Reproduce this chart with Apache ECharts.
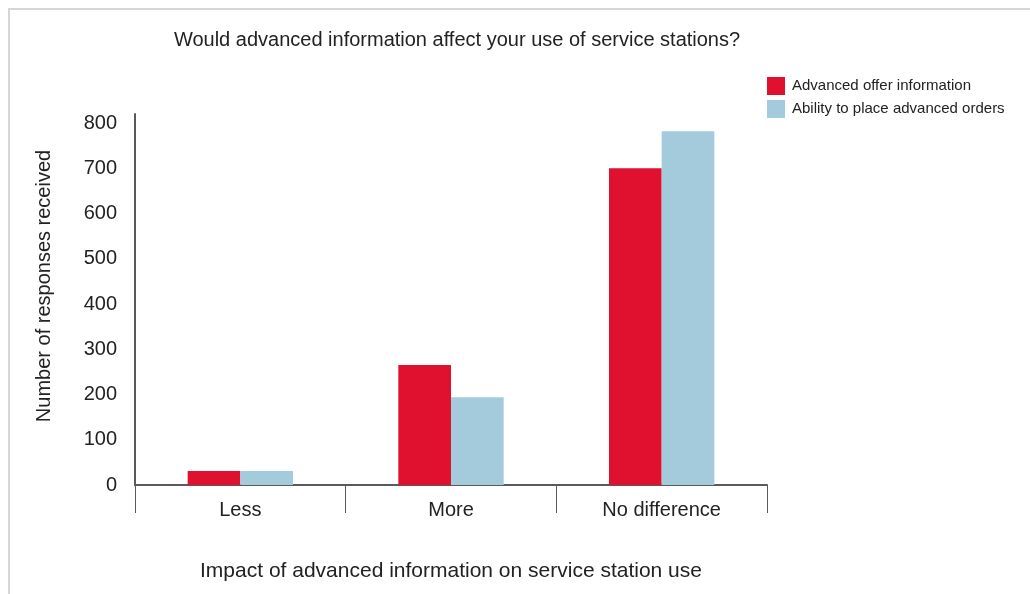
<!DOCTYPE html>
<html><head><meta charset="utf-8">
<script src="https://cdn.jsdelivr.net/npm/echarts@6/dist/echarts.min.js"></script>
<style>
html,body{margin:0;padding:0;background:#fff;}
#frame{position:absolute;left:8px;top:8px;width:1022px;height:586px;border-left:2px solid #d4d7da;border-top:2px solid #d4d7da;box-sizing:border-box;}
#chart{position:absolute;left:0;top:0;width:1030px;height:594px;}
</style></head>
<body><div id="frame"></div><div id="chart"></div>
<script>
const categories = ['Less', 'More', 'No difference'];
const seriesNames = ['Advanced offer information', 'Ability to place advanced orders'];
const offerInfo = [31, 265, 700];
const advancedOrders = [31, 194, 782];
const font = 'Liberation Sans, Arial, Helvetica, sans-serif';

const chart = echarts.init(document.getElementById('chart'));
chart.setOption({
  animation: false,
  textStyle: { fontFamily: font },
  title: {
    text: 'Would advanced information affect your use of service stations?',
    left: 452, top: 25, textAlign: 'center',
    textStyle: { fontSize: 20, fontWeight: 'normal', color: '#222', fontFamily: font }
  },
  legend: {
    orient: 'vertical', left: 767, top: 77, padding: 0,
    itemWidth: 18, itemHeight: 18, itemGap: 5,
    icon: 'rect',
    textStyle: { fontSize: 15, color: '#222', fontFamily: font, padding: [0,0,0,2] },
    data: seriesNames
  },
  grid: { left: 135, right: 263, top: 114, bottom: 109, containLabel: false },
  xAxis: {
    type: 'category', data: categories,
    name: 'Impact of advanced information on service station use',
    nameLocation: 'middle', nameGap: 76,
    nameTextStyle: { fontSize: 21, color: '#222', fontFamily: font },
    axisLine: { lineStyle: { color: '#5a5a5a', width: 2 } },
    axisTick: { show: true, length: 28, alignWithLabel: false, lineStyle: { color: '#5a5a5a', width: 1 } },
    axisLabel: { fontSize: 20, color: '#222', margin: 15, fontFamily: font }
  },
  yAxis: {
    type: 'value', min: 0, max: 820, interval: 100,
    name: 'Number of responses received',
    nameLocation: 'middle', nameGap: 81,
    nameTextStyle: { fontSize: 20, color: '#222', fontFamily: font, padding: [0, 0, 0, 27] },
    axisLine: { show: true, lineStyle: { color: '#5a5a5a', width: 2 } },
    axisTick: { show: false },
    splitLine: { show: false },
    axisLabel: { fontSize: 20, color: '#222', margin: 18, showMaxLabel: false, fontFamily: font }
  },
  series: [
    { name: seriesNames[0], type: 'bar', data: offerInfo, barGap: '0%', barCategoryGap: '50%', itemStyle: { color: '#E0102F' } },
    { name: seriesNames[1], type: 'bar', data: advancedOrders, barGap: '0%', barCategoryGap: '50%', itemStyle: { color: '#A3CBDB' } }
  ]
});
</script></body></html>
